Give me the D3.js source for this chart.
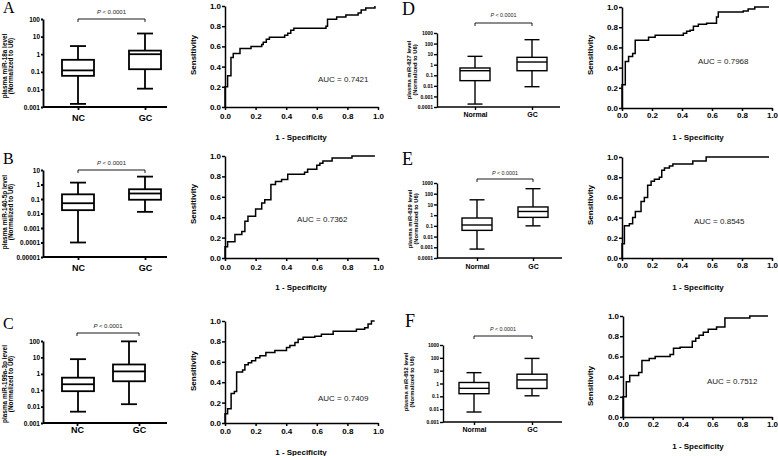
<!DOCTYPE html>
<html>
<head>
<meta charset="utf-8">
<script src="https://cdn.jsdelivr.net/npm/d3@7"></script>
<style>
  body { margin: 0; background: #fff; }
  svg { display: block; }
  text { font-family: "Liberation Sans", Arial, sans-serif; }
</style>
</head>
<body>
<svg id="fig" width="778" height="456"></svg>
<script>
// ---- data ----
const panelLetters = ['A', 'B', 'C', 'D', 'E', 'F']
const mirLabels = [
	'plasma miR-18a level',
	'plasma miR-140-5p level',
	'plasma miR-199a-3p level',
	'plasma miR-627 level',
	'plasma miR-629 level',
	'plasma miR-652 level'
]
const normLabel = '(Normalized to U6)'
const groupLabels = [
	['NC', 'GC'], ['NC', 'GC'], ['NC', 'GC'],
	['Normal', 'GC'], ['Normal', 'GC'], ['Normal', 'GC']
]
const boxDomains = [
	[0.001, 100], [0.00001, 10], [0.001, 100],
	[0.0001, 1000], [0.0001, 1000], [0.001, 1000]
]
// [min, Q1, median, Q3, max] for each group
const boxStatsA = [[0.0015, 0.059, 0.12, 0.48, 2.9], [0.011, 0.14, 1.0, 1.6, 15]]
const boxStatsB = [[0.0001, 0.017, 0.051, 0.21, 1.35], [0.013, 0.089, 0.24, 0.47, 3.5]]
const boxStatsC = [[0.0049, 0.087, 0.23, 0.58, 7.8], [0.014, 0.35, 1.4, 3.7, 95]]
const boxStatsD = [[0.00019, 0.031, 0.27, 0.49, 6.2], [0.0083, 0.27, 1.8, 5, 233]]
const boxStatsE = [[0.00068, 0.038, 0.12, 0.54, 27], [0.1, 0.62, 2.2, 5.8, 295]]
const boxStatsF = [[0.006, 0.16, 0.42, 1.2, 7], [0.11, 0.41, 1.9, 5.3, 90]]
const boxStats = [boxStatsA, boxStatsB, boxStatsC, boxStatsD, boxStatsE, boxStatsF]
const pLabel = '< 0.0001'

// ROC points [1 - specificity, sensitivity]
const rocA = [[0,0],[0.017,0.2],[0.039,0.31],[0.054,0.49],[0.098,0.53],[0.17,0.58],[0.24,0.6],[0.25,0.62],[0.27,0.64],[0.29,0.67],[0.39,0.69],[0.41,0.71],[0.43,0.73],[0.45,0.76],[0.66,0.78],[0.67,0.8],[0.73,0.87],[0.79,0.89],[0.87,0.91],[0.89,0.93],[0.92,0.96],[0.98,0.98],[0.98,1.0]]
const rocB = [[0,0],[0.017,0.11],[0.065,0.16],[0.11,0.23],[0.13,0.26],[0.15,0.36],[0.2,0.41],[0.24,0.48],[0.26,0.54],[0.30,0.57],[0.33,0.72],[0.37,0.75],[0.41,0.77],[0.52,0.82],[0.54,0.84],[0.6,0.87],[0.62,0.91],[0.64,0.93],[0.70,0.95],[0.83,0.98],[0.98,1.0]]
const rocC = [[0,0],[0.017,0.09],[0.04,0.14],[0.061,0.29],[0.076,0.31],[0.115,0.5],[0.13,0.52],[0.152,0.57],[0.174,0.59],[0.2,0.61],[0.228,0.64],[0.267,0.66],[0.326,0.69],[0.402,0.71],[0.424,0.74],[0.457,0.76],[0.478,0.79],[0.511,0.82],[0.587,0.84],[0.63,0.85],[0.707,0.87],[0.859,0.9],[0.913,0.92],[0.935,0.935],[0.957,0.97],[0.978,1.0]]
const rocD = [[0,0],[0.022,0.23],[0.044,0.46],[0.071,0.51],[0.088,0.54],[0.177,0.67],[0.221,0.70],[0.409,0.72],[0.431,0.74],[0.454,0.76],[0.476,0.77],[0.509,0.81],[0.564,0.83],[0.63,0.84],[0.642,0.9],[0.808,0.95],[0.841,0.96],[0.885,0.98],[0.98,1.0]]
const rocE = [[0,0],[0.016,0.14],[0.049,0.32],[0.071,0.34],[0.089,0.4],[0.127,0.46],[0.149,0.56],[0.171,0.6],[0.194,0.72],[0.216,0.76],[0.249,0.78],[0.265,0.8],[0.283,0.87],[0.316,0.89],[0.339,0.91],[0.472,0.93],[0.561,0.96],[0.98,1.0]]
const rocF = [[0,0],[0.022,0.2],[0.045,0.35],[0.105,0.41],[0.127,0.44],[0.176,0.56],[0.216,0.58],[0.316,0.6],[0.339,0.62],[0.383,0.68],[0.465,0.69],[0.488,0.75],[0.51,0.78],[0.539,0.81],[0.572,0.84],[0.628,0.87],[0.684,0.89],[0.851,0.98],[0.973,1.0]]
const rocData = [rocA, rocB, rocC, rocD, rocE, rocF]
const aucValues = ['0.7421', '0.7362', '0.7409', '0.7968', '0.8545', '0.7512']
const rocTicks = [0, 0.2, 0.4, 0.6, 0.8, 1.0]

// ---- layout (pixels) ----
const boxLayout = [
	{ ax: 43, xEnd: 167, top: 19, bot: 107, cx: [78, 145], shift: [0, 0], boxW: 32, lw: 1.8, tick: 2, tickFs: 6.5, catFs: 9, catPad: 5, labX: [4.5, 10.5], labY: 66, labFs: 6.4, brY: 19, pY: 12, pFs: 6, letX: 3, letY: 13, letFs: 16 },
	{ ax: 43, xEnd: 167, top: 170, bot: 257, cx: [78, 145], shift: [0, 0], boxW: 32, lw: 1.8, tick: 2, tickFs: 6.5, catFs: 9, catPad: 5, labX: [4.5, 10.5], labY: 212, labFs: 6.4, brY: 170, pY: 163, pFs: 6, letX: 3, letY: 164, letFs: 16 },
	{ ax: 43, xEnd: 167, top: 341, bot: 423, cx: [77, 139], shift: [1, -10], boxW: 32, lw: 1.8, tick: 2, tickFs: 6.5, catFs: 9, catPad: 1, labX: [4.5, 10.5], labY: 384, labFs: 6.4, brY: 333, pY: 326, pFs: 6, letX: 3, letY: 329, letFs: 16 },
	{ ax: 437, xEnd: 560, top: 33, bot: 107, cx: [475, 532], shift: [0, 0], boxW: 30, lw: 1.4, tick: 3, tickFs: 5, catFs: 7, catPad: 2.5, labX: [409, 415], labY: 70, labFs: 5.8, brY: 23, pY: 15, pFs: 5.4, letX: 402, letY: 14.5, letFs: 18 },
	{ ax: 437, xEnd: 562, top: 183, bot: 258, cx: [477, 533], shift: [0, 0], boxW: 30, lw: 1.4, tick: 3, tickFs: 5, catFs: 7, catPad: 3.5, labX: [410, 415.5], labY: 219, labFs: 5.8, brY: 179, pY: 173, pFs: 5.4, letX: 402, letY: 165, letFs: 18 },
	{ ax: 443, xEnd: 562, top: 345, bot: 422, cx: [474, 532], shift: [0, 0], boxW: 30, lw: 1.4, tick: 3, tickFs: 5, catFs: 7, catPad: 2.5, labX: [406, 411.5], labY: 382, labFs: 5.8, brY: 336, pY: 329, pFs: 5.4, letX: 405, letY: 327, letFs: 18 }
]
const rocLayout = [
	{ x0: 225, x1: 378, top: 6, bot: 107, pad: 3, senX: 193.5, senY: 55, xlabX: 301, xlabY: 137, aucX: 318, aucY: 79 },
	{ x0: 225, x1: 378, top: 156, bot: 258, pad: 3, senX: 193.5, senY: 204, xlabX: 301, xlabY: 287, aucX: 297, aucY: 219 },
	{ x0: 225, x1: 378, top: 321, bot: 423, pad: 2, senX: 193, senY: 371, xlabX: 301, xlabY: 452, aucX: 318, aucY: 398 },
	{ x0: 622, x1: 772, top: 7, bot: 108, pad: 1.3, senX: 590, senY: 55, xlabX: 698, xlabY: 137, aucX: 698, aucY: 61 },
	{ x0: 622, x1: 772, top: 157, bot: 258, pad: 1.3, senX: 590, senY: 205, xlabX: 698, xlabY: 287, aucX: 694, aucY: 221 },
	{ x0: 623, x1: 772, top: 316, bot: 417, pad: 1.3, senX: 590, senY: 386, xlabX: 698, xlabY: 446, aucX: 707, aucY: 381 }
]

const svg = d3.select('#fig')
svg.append('rect').attr('width', 778).attr('height', 456).attr('fill', '#fff')

function fmtLog(v) {
	const e = Math.round(Math.log10(v))
	return e >= 0 ? String(Math.pow(10, e)) : v.toFixed(-e)
}

function styleAxis(sel, lw, fs) {
	sel.attr('font-family', null).attr('font-size', null)
	sel.selectAll('path, line').attr('stroke', '#000').attr('stroke-width', lw)
	sel.selectAll('text')
		.attr('fill', '#000')
		.style('font-size', fs + 'px')
		.style('font-weight', 'bold')
}

function drawBox(i) {
	const L = boxLayout[i]
	const dom = boxDomains[i]
	const cats = groupLabels[i]
	const g = svg.append('g')

	const y = d3.scaleLog().domain(dom).range([L.bot, L.top])
	const x = d3.scalePoint().domain(cats).range(L.cx)

	const exps = d3.range(Math.round(Math.log10(dom[0])), Math.round(Math.log10(dom[1])) + 1)
	const ticks = exps.map(e => Math.pow(10, e))

	g.append('g')
		.attr('transform', `translate(${L.ax},0)`)
		.call(d3.axisLeft(y).tickValues(ticks).tickFormat(fmtLog)
			.tickSize(L.tick).tickPadding(1).tickSizeOuter(0))
		.call(s => styleAxis(s, L.lw, L.tickFs))

	const xa = g.append('g')
		.attr('transform', `translate(0,${L.bot})`)
		.call(d3.axisBottom(x).tickSize(3).tickPadding(L.catPad))
		.call(s => styleAxis(s, L.lw, L.catFs))
	xa.select('.domain').remove()
	g.append('line')
		.attr('x1', L.ax).attr('x2', L.xEnd)
		.attr('y1', L.bot).attr('y2', L.bot)
		.attr('stroke', '#000').attr('stroke-width', L.lw)

	// boxes
	boxStats[i].forEach((s, j) => {
		const cx = x(cats[j]) + L.shift[j]
		const hw = L.boxW / 2
		const cw = L.boxW / 4
		const bg = g.append('g')
			.attr('stroke', '#000').attr('stroke-width', L.lw).attr('fill', 'none')
		bg.append('line').attr('x1', cx).attr('x2', cx).attr('y1', y(s[0])).attr('y2', y(s[1]))
		bg.append('line').attr('x1', cx).attr('x2', cx).attr('y1', y(s[3])).attr('y2', y(s[4]))
		bg.append('line').attr('x1', cx - cw).attr('x2', cx + cw).attr('y1', y(s[0])).attr('y2', y(s[0]))
		bg.append('line').attr('x1', cx - cw).attr('x2', cx + cw).attr('y1', y(s[4])).attr('y2', y(s[4]))
		bg.append('rect')
			.attr('x', cx - hw).attr('width', L.boxW)
			.attr('y', y(s[3])).attr('height', y(s[1]) - y(s[3]))
			.attr('fill', '#fff')
		bg.append('line').attr('x1', cx - hw).attr('x2', cx + hw).attr('y1', y(s[2])).attr('y2', y(s[2]))
	})

	// significance bracket
	const bx1 = x(cats[0]), bx2 = x(cats[1])
	g.append('path')
		.attr('d', `M ${bx1} ${L.brY + 3} V ${L.brY} H ${bx2} V ${L.brY + 3}`)
		.attr('fill', 'none').attr('stroke', '#000').attr('stroke-width', 0.9)
	const pt = g.append('text')
		.attr('x', (bx1 + bx2) / 2).attr('y', L.pY)
		.attr('text-anchor', 'middle').attr('dominant-baseline', 'central')
		.style('font-size', L.pFs + 'px').attr('fill', '#222')
	pt.append('tspan').style('font-style', 'italic').text('P ')
	pt.append('tspan').text(pLabel)

	// y label (two lines)
	;[mirLabels[i], normLabel].forEach((t, k) => {
		g.append('text')
			.attr('transform', `translate(${L.labX[k]},${L.labY}) rotate(-90)`)
			.attr('text-anchor', 'middle').attr('dominant-baseline', 'central')
			.style('font-size', L.labFs + 'px').style('font-weight', 'bold')
			.text(t)
	})

	// panel letter
	g.append('text')
		.attr('x', L.letX).attr('y', L.letY)
		.style('font-family', '"Liberation Serif", "Times New Roman", serif')
		.style('font-size', L.letFs + 'px')
		.text(panelLetters[i])
}

function drawRoc(i) {
	const R = rocLayout[i]
	const g = svg.append('g')
	const x = d3.scaleLinear().domain([0, 1]).range([R.x0, R.x1])
	const y = d3.scaleLinear().domain([0, 1]).range([R.bot, R.top])

	g.append('g')
		.attr('transform', `translate(0,${R.bot})`)
		.call(d3.axisBottom(x).tickValues(rocTicks).tickFormat(d3.format('.1f'))
			.tickSize(3).tickPadding(R.pad).tickSizeOuter(0))
		.call(s => styleAxis(s, 1.5, 8))
	g.append('g')
		.attr('transform', `translate(${R.x0},0)`)
		.call(d3.axisLeft(y).tickValues(rocTicks).tickFormat(d3.format('.1f'))
			.tickSize(3).tickPadding(1).tickSizeOuter(0))
		.call(s => styleAxis(s, 1.5, 8))

	const line = d3.line()
		.x(d => x(d[0]))
		.y(d => y(d[1]))
		.curve(d3.curveStepBefore)
	g.append('path')
		.datum(rocData[i])
		.attr('d', line)
		.attr('fill', 'none')
		.attr('stroke', '#000')
		.attr('stroke-width', 1.5)

	g.append('text')
		.attr('transform', `translate(${R.senX},${R.senY}) rotate(-90)`)
		.attr('text-anchor', 'middle').attr('dominant-baseline', 'central')
		.style('font-size', '8px').style('font-weight', 'bold')
		.text('Sensitivity')
	g.append('text')
		.attr('x', R.xlabX).attr('y', R.xlabY)
		.attr('text-anchor', 'middle').attr('dominant-baseline', 'central')
		.style('font-size', '8px').style('font-weight', 'bold')
		.text('1 - Specificity')
	g.append('text')
		.attr('x', R.aucX).attr('y', R.aucY)
		.attr('dominant-baseline', 'central')
		.style('font-size', '8px').attr('fill', '#222')
		.text('AUC = ' + aucValues[i])
}

for (let i = 0; i < 6; i++) {
	drawBox(i)
	drawRoc(i)
}
</script>
</body>
</html>
